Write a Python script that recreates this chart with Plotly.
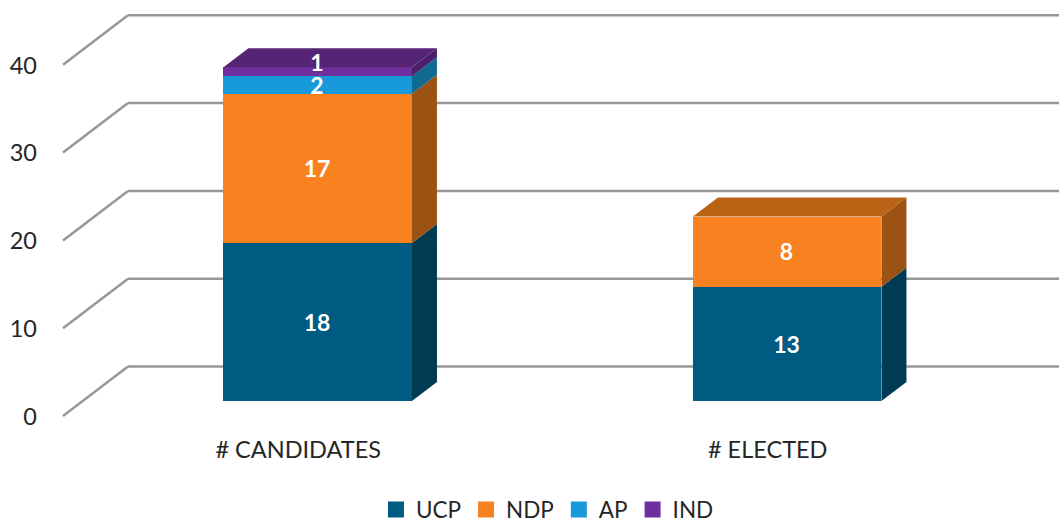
import plotly.graph_objects as go

categories = ["# CANDIDATES", "# ELECTED"]
series_names = ["UCP", "NDP", "AP", "IND"]
ucp_values = [18, 13]
ndp_values = [17, 8]
ap_values = [2, 0]
ind_values = [1, 0]
y_ticks = [0, 10, 20, 30, 40]

series_values = [ucp_values, ndp_values, ap_values, ind_values]
front_colors = ["#005B82", "#F8821F", "#1899D9", "#702F9E"]
side_colors = ["#003A53", "#9C5212", "#0F6A91", "#4A1F6C"]
top_colors = ["#004766", "#BC6215", "#137AAE", "#572475"]

FONT = "Lato"
GRID = "#979797"
TEXT = "#262626"

W, H = 1059, 523
PX_PER_CAT = 469.5
PX_PER_UNIT = 8.78
X0_PX, Y0_PX = 317.7, 401
PLOT_L, PLOT_B = 38, 433

def xu(px):
    return px / PX_PER_CAT

def yu(px):
    return px / PX_PER_UNIT

x_range = [xu(PLOT_L - X0_PX), xu(W - X0_PX)]
y_range = [yu(Y0_PX - PLOT_B), yu(Y0_PX)]

bar_width = xu(188.5)
depth_x, depth_y = xu(25), yu(19)
wall_x = xu(128 - X0_PX)
floor_x = xu(63 - X0_PX)
wall_y = yu(Y0_PX - 366.5)
floor_y = yu(Y0_PX - 416)

fig = go.Figure()

# front faces
for name, vals, col in zip(series_names, series_values, front_colors):
    fig.add_trace(go.Bar(
        x=list(range(len(categories))), y=vals, width=bar_width, name=name,
        marker=dict(color=col, line=dict(width=0)), showlegend=False, hoverinfo="skip",
    ))

# side and top faces, labels
label_x, label_y, label_t = [], [], []
for c in range(len(categories)):
    base = 0
    x1 = c + bar_width / 2
    x0 = c - bar_width / 2
    top_idx = max(i for i, v in enumerate(series_values) if v[c] > 0)
    for i, vals in enumerate(series_values):
        v = vals[c]
        if v <= 0:
            continue
        t = base + v
        fig.add_trace(go.Scatter(
            x=[x1, x1 + depth_x, x1 + depth_x, x1, x1],
            y=[base, base + depth_y, t + depth_y, t, base],
            mode="lines", fill="toself", fillcolor=side_colors[i],
            line=dict(width=0), showlegend=False, hoverinfo="skip",
        ))
        if i == top_idx:
            fig.add_trace(go.Scatter(
                x=[x0, x1, x1 + depth_x, x0 + depth_x, x0],
                y=[t, t, t + depth_y, t + depth_y, t],
                mode="lines", fill="toself", fillcolor=top_colors[i],
                line=dict(width=0), showlegend=False, hoverinfo="skip",
            ))
        label_x.append(c - xu(0.7))
        label_y.append(base + v / 2 + yu(-3) + (yu(9.5) if v == 1 else 0))
        label_t.append(str(v))
        base = t

fig.add_trace(go.Scatter(
    x=label_x, y=label_y, text=label_t, mode="text", textposition="middle center",
    textfont=dict(family=FONT, size=23, color="white", weight="bold"),
    showlegend=False, hoverinfo="skip",
))

# legend entries
for name, col in zip(series_names, front_colors):
    fig.add_trace(go.Scatter(
        x=[None], y=[None], mode="markers", name=name,
        marker=dict(symbol="square", size=16, color=col),
    ))

# walls and floor lines
shapes = []
for v in y_ticks:
    line = dict(color=GRID, width=2.5)
    shapes.append(dict(type="line", xref="x", yref="y", layer="below", line=line,
                       x0=wall_x, x1=x_range[1], y0=v + wall_y, y1=v + wall_y))
    shapes.append(dict(type="line", xref="x", yref="y", layer="below", line=line,
                       x0=floor_x, x1=wall_x, y0=v + floor_y, y1=v + wall_y))

fig.update_layout(
    width=W, height=H, barmode="stack", shapes=shapes,
    margin=dict(l=PLOT_L, r=0, t=0, b=H - PLOT_B, autoexpand=False),
    paper_bgcolor="white", plot_bgcolor="white",
    font=dict(family=FONT, size=23.5, color=TEXT),
    xaxis=dict(
        range=x_range, showgrid=False, zeroline=False, showline=False, ticks="",
        tickmode="array", tickvals=[c + xu(-19.5) for c in range(len(categories))],
        ticktext=categories, fixedrange=True,
    ),
    yaxis=dict(
        range=y_range, showgrid=False, zeroline=False, showline=False, ticks="",
        tickmode="array", tickvals=[v + yu(-15.5) for v in y_ticks],
        ticktext=[str(v) for v in y_ticks], fixedrange=True,
    ),
    legend=dict(
        orientation="h", xref="container", yref="container", traceorder="normal",
        x=0.355, xanchor="left", y=0.025, yanchor="middle",
        font=dict(family=FONT, size=22.5, color=TEXT), bgcolor="rgba(0,0,0,0)",
    ),
)

fig.write_html("out.html", config={"displayModeBar": False},
               post_script="document.body.style.margin='0';")
